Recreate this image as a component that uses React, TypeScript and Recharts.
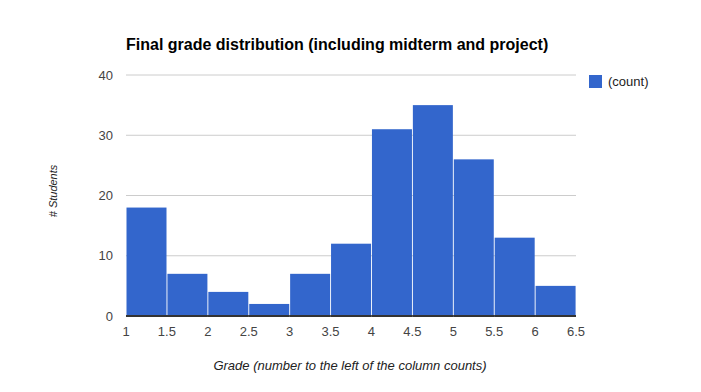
import { BarChart, Bar, XAxis, YAxis, CartesianGrid } from "recharts";

const bins = [1, 1.5, 2, 2.5, 3, 3.5, 4, 4.5, 5, 5.5, 6];
const counts = [18, 7, 4, 2, 7, 12, 31, 35, 26, 13, 5];
const gradeTicks = [1, 1.5, 2, 2.5, 3, 3.5, 4, 4.5, 5, 5.5, 6, 6.5];
const countTicks = [0, 10, 20, 30, 40];

const FONT = "Arial, 'Liberation Sans', sans-serif";

// bar plus its piece of the dark baseline, so the baseline sits on top of the bars
function HistBar(props: any) {
  const { x, y, width, height, fill } = props;
  return (
    <g>
      <rect x={x} y={y} width={width} height={height} fill={fill} />
      <line x1={x - 0.5} x2={x + width + 0.5} y1={y + height} y2={y + height} stroke="#333333" strokeWidth={2} />
    </g>
  );
}

export default function App() {
  // one row per histogram bin; "mid" is the bin centre on the grade axis
  const data = bins.map((b, i) => ({ mid: b + 0.25, count: counts[i] }));

  return (
    <div style={{ position: "absolute", left: 0, top: 0, width: 701, height: 392, background: "#fff", fontFamily: FONT }}>
      <BarChart
        width={701}
        height={392}
        data={data}
        margin={{ top: 75, right: 125, bottom: 56, left: 66 }}
        barCategoryGap={0.5}
      >
        <CartesianGrid vertical={false} stroke="#cccccc" />
        <XAxis
          type="number"
          dataKey="mid"
          domain={[1, 6.5]}
          ticks={gradeTicks}
          allowDataOverflow
          height={20}
          tickLine={false}
          tickSize={0}
          tickMargin={11}
          axisLine={false}
          tick={{ fill: "#444444", fontSize: 13, fontFamily: FONT }}
        />
        <YAxis
          width={60}
          domain={[0, 40]}
          ticks={countTicks}
          axisLine={false}
          tickLine={false}
          tickSize={0}
          tickMargin={13}
          tick={{ fill: "#444444", fontSize: 13, fontFamily: FONT }}
        />
        <Bar dataKey="count" fill="#3366cc" shape={HistBar} isAnimationActive={false} />
      </BarChart>

      {/* title, axis titles and legend, placed like the Google chart */}
      <div style={{ position: "absolute", left: 126, top: 36, fontSize: 16, fontWeight: "bold", color: "#000" }}>
        Final grade distribution (including midterm and project)
      </div>
      <svg width={701} height={392} style={{ position: "absolute", left: 0, top: 0, pointerEvents: "none" }}>
        <text
          x={57}
          y={191}
          transform="rotate(-90 57 191)"
          textAnchor="middle"
          fontSize={11}
          fontStyle="italic"
          fill="#222222"
          fontFamily={FONT}
        >
          # Students
        </text>
        <text x={350} y={370} textAnchor="middle" fontSize={13} fontStyle="italic" fill="#222222" fontFamily={FONT}>
          Grade (number to the left of the column counts)
        </text>
        <rect x={589} y={75} width={13} height={13} fill="#3366cc" />
        <text x={608} y={86} fontSize={13} fill="#222222" fontFamily={FONT}>
          (count)
        </text>
      </svg>
    </div>
  );
}
